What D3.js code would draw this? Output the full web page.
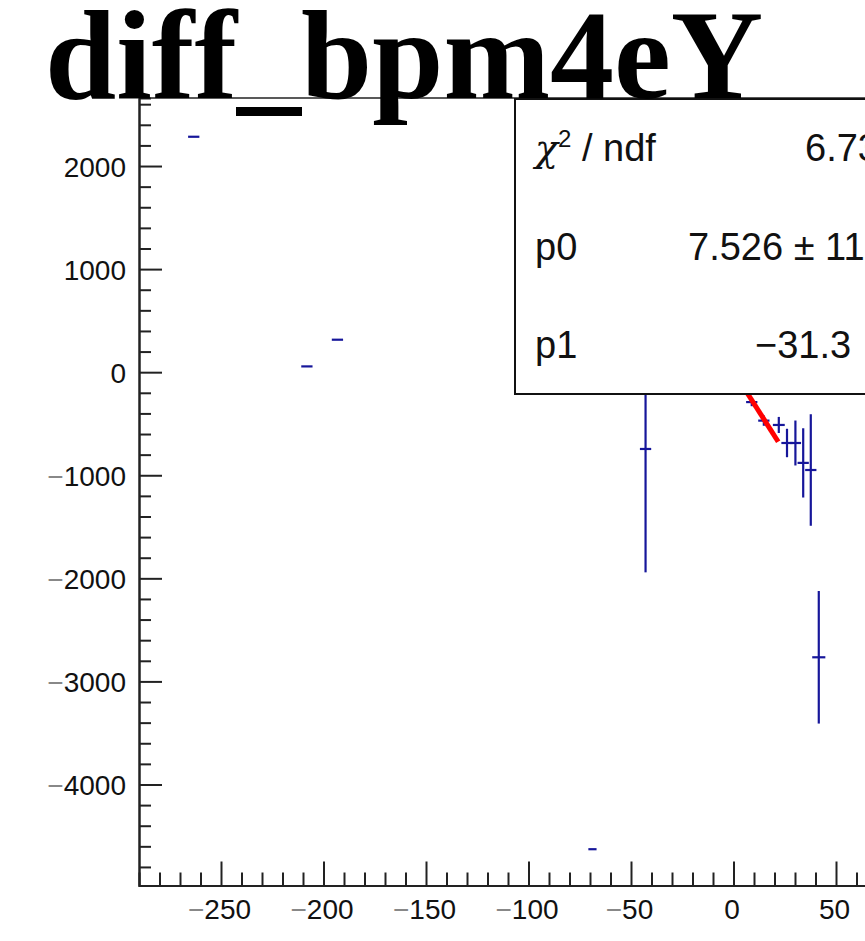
<!DOCTYPE html>
<html>
<head>
<meta charset="utf-8">
<script src="https://cdn.jsdelivr.net/npm/d3@7"></script>
<style>
  html, body { margin: 0; padding: 0; background: #fff; overflow: hidden; }
  svg { display: block; }
</style>
</head>
<body>
<div id="chart"></div>
<script>
// ---- data ----
const pointX   = [-263.3, -208.1, -193.2, -68.8, -42.9, 8.9, 14.8, 22.1, 26.1, 30.2, 34.0, 37.7, 41.6];
const pointY   = [2284, 56, 315, -4628, -745, -290, -470, -512, -687, -687, -880, -949, -2766];
const pointYErr = [0, 0, 0, 0, 1197, 40, 50, 78, 138, 218, 336, 541, 643];
const pointXErr = [2.75, 2.75, 2.75, 2.0, 2.75, 2.75, 2.75, 2.9, 2.75, 2.75, 2.75, 2.75, 3.2];
const fitP0 = 7.526, fitP1 = -31.3;
const fitRange = [-5, 21.8];
const xMajorTicks = [-250, -200, -150, -100, -50, 0, 50];
const yMajorTicks = [2000, 1000, 0, -1000, -2000, -3000, -4000];
const titleText = "diff_bpm4eY";
const statsLabels = ["χ² / ndf", "p0", "p1"];
const statsValues = ["6.73", "7.526 ± 11", "−31.3"];

// ---- layout ----
const W = 865, H = 941;
const frame = { left: 139, top: 98, bottom: 885.5 };
const svg = d3.select("#chart").append("svg").attr("width", W).attr("height", H);

const x = d3.scaleLinear().domain([-290, 100]).range([frame.left, frame.left + 390 * 2.05]);
const y = d3.scaleLinear().domain([-4980, 2660]).range([frame.bottom, frame.top]);

const sans = "'Liberation Sans', Arial, Helvetica, sans-serif";
const axisColor = "#222";

// frame top line
svg.append("line").attr("x1", frame.left).attr("x2", W + 5)
  .attr("y1", frame.top).attr("y2", frame.top)
  .attr("stroke", axisColor).attr("stroke-width", 1.5);

// minor ticks
const xMinor = d3.range(-280, 101, 10).filter(v => v % 50 !== 0);
const yMinor = d3.range(-4800, 2601, 200).filter(v => v % 1000 !== 0);

function minusLabel(sel) {
  sel.each(function(d) {
    const t = d3.select(this);
    t.text(null);
    if (d < 0) {
      t.append("tspan").attr("fill", "#888").text("−");
      t.append("tspan").text(String(Math.abs(d)));
    } else {
      t.append("tspan").text(String(d));
    }
  });
}

// X axis
const gxMinor = svg.append("g").attr("transform", `translate(0,${frame.bottom})`)
  .call(d3.axisBottom(x).tickValues(xMinor).tickSize(-13).tickFormat(""));
const gx = svg.append("g").attr("transform", `translate(0,${frame.bottom})`)
  .call(d3.axisBottom(x).tickValues(xMajorTicks).tickSize(-24).tickSizeOuter(0));
[gx, gxMinor].forEach(g => {
  g.select(".domain").attr("stroke", axisColor).attr("stroke-width", 2);
  g.selectAll(".tick line").attr("stroke", axisColor).attr("stroke-width", 2);
});
gx.selectAll(".tick text")
  .attr("y", 0).attr("dy", 0).attr("transform", "translate(-2,33)")
  .attr("font-family", sans).attr("font-size", 28).attr("fill", "#111")
  .call(minusLabel);

// Y axis
const gyMinor = svg.append("g").attr("transform", `translate(${frame.left},0)`)
  .call(d3.axisLeft(y).tickValues(yMinor).tickSize(-12).tickFormat(""));
const gy = svg.append("g").attr("transform", `translate(${frame.left},0)`)
  .call(d3.axisLeft(y).tickValues(yMajorTicks).tickSize(-23).tickSizeOuter(0));
[gy, gyMinor].forEach(g => {
  g.select(".domain").attr("stroke", axisColor).attr("stroke-width", 2);
  g.selectAll(".tick line").attr("stroke", axisColor).attr("stroke-width", 2);
});
gy.selectAll(".tick text")
  .attr("x", -13).attr("dy", "0.36em")
  .attr("font-family", sans).attr("font-size", 28).attr("fill", "#111")
  .call(minusLabel);

// data points with error bars
const blue = "#16169a";
const pts = pointX.map((v, i) => ({ x: v, y: pointY[i], ex: pointXErr[i], ey: pointYErr[i] }));
const gp = svg.append("g");
gp.selectAll("line.ex").data(pts).join("line").attr("class", "ex")
  .attr("x1", d => x(d.x - d.ex)).attr("x2", d => x(d.x + d.ex))
  .attr("y1", d => y(d.y)).attr("y2", d => y(d.y))
  .attr("stroke", blue).attr("stroke-width", 2.2);
gp.selectAll("line.ey").data(pts.filter(d => d.ey > 0)).join("line").attr("class", "ey")
  .attr("x1", d => x(d.x)).attr("x2", d => x(d.x))
  .attr("y1", d => y(d.y - d.ey)).attr("y2", d => y(d.y + d.ey))
  .attr("stroke", blue).attr("stroke-width", 2.2);

// fit line
const fitLine = d3.line().x(d => x(d)).y(d => y(fitP0 + fitP1 * d));
svg.append("path").attr("d", fitLine(fitRange))
  .attr("stroke", "#ff0000").attr("stroke-width", 5).attr("fill", "none");

// stats box
const box = { left: 515, top: 99, bottom: 394 };
svg.append("rect").attr("x", box.left).attr("y", box.top)
  .attr("width", W - box.left + 10).attr("height", box.bottom - box.top)
  .attr("fill", "#fff").attr("stroke", "#111").attr("stroke-width", 2);
const rowBase = [161, 260, 358];
const valX = [805, 688, 755];
statsLabels.forEach((lab, i) => {
  const t = svg.append("text").attr("x", 535).attr("y", rowBase[i])
    .attr("font-family", sans).attr("font-size", 38).attr("fill", "#111");
  if (i === 0) {
    t.append("tspan").attr("font-family", "'DejaVu Serif', serif").attr("font-style", "italic").text("χ");
    t.append("tspan").attr("font-size", 24).attr("dy", -14).text("2");
    t.append("tspan").attr("dy", 14).text(" / ndf");
  } else {
    t.text(lab);
  }
  svg.append("text").attr("x", valX[i]).attr("y", rowBase[i])
    .attr("font-family", sans).attr("font-size", 38).attr("fill", "#111")
    .text(statsValues[i]);
});

// title
svg.append("text").attr("x", 45).attr("y", 98)
  .attr("font-family", "'Liberation Serif', 'Times New Roman', serif")
  .attr("font-weight", "bold").attr("font-size", 128).attr("fill", "#000")
  .text(titleText);
</script>
</body>
</html>
